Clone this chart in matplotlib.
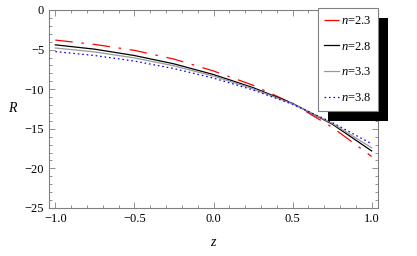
import numpy as np
import matplotlib
matplotlib.use("Agg")
import matplotlib.pyplot as plt
from matplotlib.ticker import MultipleLocator
from matplotlib.patches import Rectangle
from matplotlib.transforms import IdentityTransform

# ---------------------------------
# Data
# ---------------------------------

z = [-1.0, -0.75, -0.5, -0.25, 0.0, 0.25, 0.5, 0.75, 1.0]

R_23 = [-3.8, -4.35, -5.1, -6.2, -7.7, -9.5, -11.8, -14.8, -18.5]
R_28 = [-4.4, -4.95, -5.75, -6.8, -8.15, -9.8, -11.8, -14.4, -17.8]
R_33 = [-4.8, -5.3, -6.05, -7.05, -8.35, -9.95, -11.85, -14.3, -17.4]
R_38 = [-5.25, -5.75, -6.45, -7.4, -8.6, -10.1, -11.9, -14.2, -16.9]

labels = ["$n$=2.3", "$n$=2.8", "$n$=3.3", "$n$=3.8"]

# ---------------------------------
# Figure
# ---------------------------------

plt.rcParams["font.family"] = ["Liberation Serif", "DejaVu Serif"]
plt.rcParams["mathtext.fontset"] = "custom"
plt.rcParams["mathtext.it"] = "Liberation Serif:italic"
plt.rcParams["mathtext.rm"] = "Liberation Serif"

fig = plt.figure(figsize=(4.17, 2.56), dpi=100)
ax = fig.add_axes([0.1175, 0.1875, 0.789, 0.7735])

ax.plot(z, R_23, color="red", lw=0.9, dashes=(14, 7, 2, 7), label=labels[0])
ax.plot(z, R_28, color="black", lw=0.9, label=labels[1])
ax.plot(z, R_33, color="#999999", lw=0.9, label=labels[2])
ax.plot(z, R_38, color="blue", lw=0.9, dashes=(1.3, 2.3), label=labels[3])

ax.set_xlim(-1.04, 1.04)
ax.set_ylim(-25, 0)

ax.xaxis.set_major_locator(MultipleLocator(0.5))
ax.xaxis.set_minor_locator(MultipleLocator(0.1))
ax.yaxis.set_major_locator(MultipleLocator(5))
ax.yaxis.set_minor_locator(MultipleLocator(1))
ax.xaxis.set_major_formatter(plt.FuncFormatter(lambda v, p: f"{v:.1f}".replace("-", "\u2212")))
ax.yaxis.set_major_formatter(plt.FuncFormatter(lambda v, p: f"{v:.0f}".replace("-", "\u2212")))

for s in ax.spines.values():
    s.set_color("#808080")
    s.set_linewidth(0.8)

ax.tick_params(which="both", direction="in", top=True, right=True,
               color="#808080", labelsize=9, width=0.6)
ax.tick_params(which="major", length=4)
ax.tick_params(which="minor", length=2)

ax.set_xlabel("$z$", fontsize=10, labelpad=8)
ax.set_ylabel("$R$", fontsize=10, rotation=0, va="center", ha="center")
ax.yaxis.set_label_coords(-0.11, 0.505)

leg = ax.legend(loc="upper right", bbox_to_anchor=(1.0, 1.01), fontsize=9,
                frameon=True, fancybox=False, framealpha=1.0,
                handlelength=1.2, handletextpad=0.1, labelspacing=1.1,
                borderpad=0.55, borderaxespad=0.0)
leg.get_frame().set_edgecolor("#808080")
leg.get_frame().set_linewidth(0.8)

# Mathematica-like heavy drop shadow behind the legend box
fig.canvas.draw()
bb = leg.get_frame().get_window_extent()
shadow = Rectangle((bb.x0 + 10, bb.y0 - 10), bb.width, bb.height,
                   transform=IdentityTransform(), facecolor="black",
                   edgecolor="none", clip_on=False, zorder=4.9)
ax.add_artist(shadow)

fig.savefig("out.png", dpi=100)
